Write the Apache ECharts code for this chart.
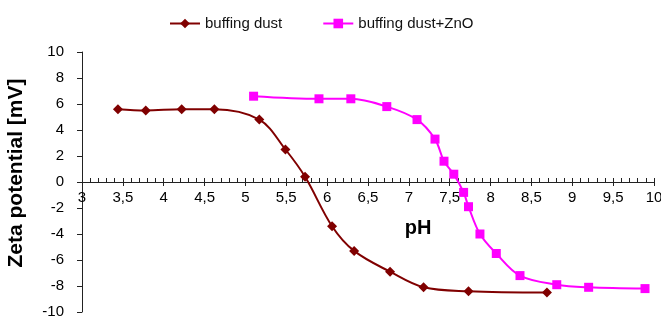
<!DOCTYPE html>
<html>
<head>
<meta charset="utf-8">
<script src="https://cdn.jsdelivr.net/npm/echarts@6/dist/echarts.min.js"></script>
<style>
  html, body { margin: 0; padding: 0; background: #fff; }
  #chart { width: 661px; height: 320px; }
</style>
</head>
<body>
<div id="chart"></div>
<script>
// buffing dust
const phDust = [3.44, 3.78, 4.22, 4.62, 5.17, 5.49, 5.73, 6.06, 6.33, 6.77, 7.18, 7.73, 8.69]
const zetaDust = [5.6, 5.5, 5.6, 5.6, 4.8, 2.5, 0.4, -3.4, -5.3, -6.9, -8.1, -8.4, -8.5]
// buffing dust + ZnO
const phZnO = [5.1, 5.9, 6.29, 6.73, 7.1, 7.32, 7.43, 7.55, 7.67, 7.73, 7.87, 8.07, 8.36, 8.81, 9.2, 9.89]
const zetaZnO = [6.6, 6.4, 6.4, 5.8, 4.8, 3.3, 1.6, 0.6, -0.8, -1.9, -4.0, -5.5, -7.2, -7.9, -8.1, -8.2]
const seriesNames = ['buffing dust', 'buffing dust+ZnO']

const font = "'Liberation Sans', Arial, sans-serif"

const chart = echarts.init(document.getElementById('chart'))

const option = {
  animation: false,
  textStyle: { fontFamily: font, color: '#000' },
  legend: {
    left: 164,
    top: 11,
    itemWidth: 30,
    itemHeight: 12,
    itemGap: 40,
    textStyle: { fontFamily: font, fontSize: 15, color: '#111' },
    data: seriesNames,
  },
  grid: {
    left: 82,
    right: 7,
    top: 52,
    bottom: 8,
    containLabel: false,
    outerBoundsMode: 'none',
  },
  xAxis: [
    {
      // zero line with upward major + minor ticks
      type: 'value',
      min: 3,
      max: 10,
      interval: 0.5,
      position: 'bottom',
      axisLine: { show: true, onZero: true, lineStyle: { color: '#222', width: 1 } },
      axisTick: { show: true, inside: true, length: 4, lineStyle: { color: '#222' } },
      minorTick: { show: true, splitNumber: 5, length: 4, lineStyle: { color: '#222' } },
      axisLabel: { show: false },
      splitLine: { show: false },
    },
    {
      // labels, name and downward part of the major ticks, sitting on the zero line
      type: 'value',
      min: 3,
      max: 10,
      interval: 0.5,
      position: 'top',
      offset: -130,
      name: 'pH',
      nameLocation: 'middle',
      nameGap: -56,
      nameTextStyle: {
        fontFamily: font,
        fontSize: 20,
        fontWeight: 'bold',
        color: '#000',
        padding: [0, 0, 0, 100],
      },
      axisLine: { show: false, onZero: false },
      axisTick: { show: true, inside: true, length: 4, lineStyle: { color: '#222' } },
      axisLabel: {
        inside: true,
        margin: 8,
        fontSize: 15,
        color: '#000',
        formatter: (v) => String(v).replace('.', ','),
      },
      splitLine: { show: false },
    },
  ],
  yAxis: {
    type: 'value',
    min: -10,
    max: 10,
    interval: 2,
    name: 'Zeta potential [mV]',
    nameLocation: 'middle',
    nameGap: 55,
    nameTextStyle: {
      fontFamily: font,
      fontSize: 21,
      fontWeight: 'bold',
      color: '#000',
      padding: [0, 0, 0, 18],
    },
    axisLine: { show: true, onZero: false, lineStyle: { color: '#222', width: 1 } },
    axisTick: { show: true, inside: false, length: 5, lineStyle: { color: '#222' } },
    axisLabel: { margin: 18, fontSize: 15, color: '#000' },
    splitLine: { show: false },
  },
  series: [
    {
      name: seriesNames[0],
      type: 'line',
      smooth: 0.35,
      symbol: 'diamond',
      symbolSize: 10,
      lineStyle: { color: '#800000', width: 2 },
      itemStyle: { color: '#800000' },
      data: phDust.map((x, i) => [x, zetaDust[i]]),
    },
    {
      name: seriesNames[1],
      type: 'line',
      smooth: 0.35,
      symbol: 'rect',
      symbolSize: 9,
      lineStyle: { color: '#ff00ff', width: 2 },
      itemStyle: { color: '#ff00ff' },
      data: phZnO.map((x, i) => [x, zetaZnO[i]]),
    },
  ],
}

chart.setOption(option)
</script>
</body>
</html>
